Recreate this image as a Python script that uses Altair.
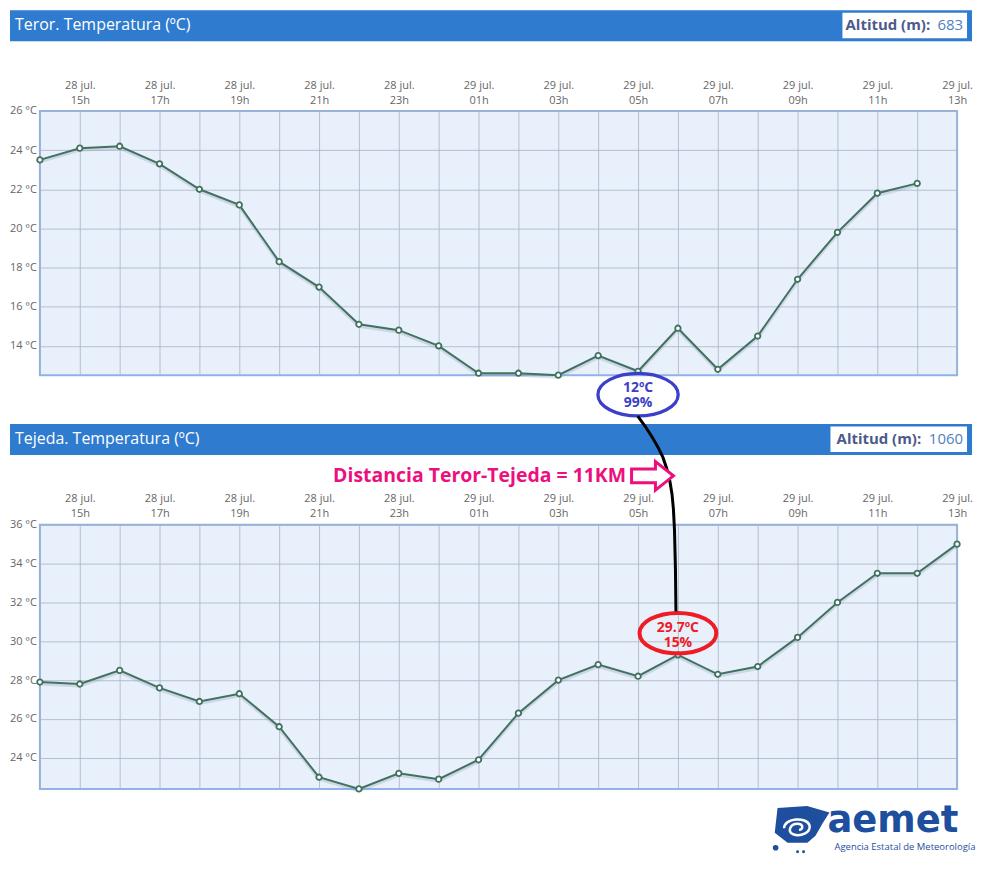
import json
import altair as alt
import pandas as pd

# ---------------- data ----------------
slot_day = ["28 jul.", "28 jul.", "28 jul.", "28 jul.", "28 jul.", "28 jul.", "28 jul.", "28 jul.",
            "28 jul.", "28 jul.", "29 jul.", "29 jul.", "29 jul.", "29 jul.", "29 jul.", "29 jul.",
            "29 jul.", "29 jul.", "29 jul.", "29 jul.", "29 jul.", "29 jul.", "29 jul.", "29 jul."]
slot_hour = ["14h", "15h", "16h", "17h", "18h", "19h", "20h", "21h", "22h", "23h", "00h", "01h",
             "02h", "03h", "04h", "05h", "06h", "07h", "08h", "09h", "10h", "11h", "12h", "13h"]

teror_temp = [23.5, 24.1, 24.2, 23.3, 22.0, 21.2, 18.3, 17.0, 15.1, 14.8, 14.0, 12.6,
              12.6, 12.5, 13.5, 12.7, 14.9, 12.8, 14.5, 17.4, 19.8, 21.8, 22.3, None]
tejeda_temp = [27.9, 27.8, 28.5, 27.6, 26.9, 27.3, 25.6, 23.0, 22.4, 23.2, 22.9, 23.9,
               26.3, 28.0, 28.8, 28.2, 29.3, 28.3, 28.7, 30.2, 32.0, 33.5, 33.5, 35.0]

teror_title = "Teror. Temperatura (ºC)"
tejeda_title = "Tejeda. Temperatura (ºC)"
altitude_label = "Altitud (m):"
teror_altitude = "683"
tejeda_altitude = "1060"
teror_domain = [12.5, 26]
tejeda_domain = [22.4, 36]
teror_ticks = [14, 16, 18, 20, 22, 24, 26]
tejeda_ticks = [24, 26, 28, 30, 32, 34, 36]

teror_note = ["12ºC", "99%"]
teror_note_hour = "05h"
tejeda_note = ["29.7ºC", "15%"]
tejeda_note_hour = "06h"
distance_text = "Distancia Teror-Tejeda = 11KM"
logo_word = "aemet"
logo_sub = "Agencia Estatal de Meteorología"

# ---------------- style ----------------
FONT = "Open Sans"
LINE = "#41715f"
HEADER = "#2e7bcf"
LOGO = "#1d4f9e"
W, H = 920, 265
HX0, HX1 = -30, 935
LY = -5  # logo vertical nudge

ELLIPSE = "M -1 0 A 1 0.53 0 1 1 1 0 A 1 0.53 0 1 1 -1 0 Z"
ARROW = "M -1 -0.33 L 0.14 -0.33 L 0.14 -0.68 L 1 0 L 0.14 0.68 L 0.14 0.33 L -1 0.33 Z"
CURVE = ("M -0.197 -1 Q -0.03 -0.78 0.06 -0.58 Q 0.15 -0.35 0.168 -0.05 "
         "L 0.179 0.163 L 0.189 0.571 L 0.194 1")
BLOB = ("M -0.86 -0.71 L 0.2 -0.78 L 1 -0.55 L 0.75 -0.15 L 0.5 0.29 L 0.21 0.54 "
        "L -0.5 0.54 L -0.96 0.18 Z")
SWIRL = ("M -0.9 0.1 C -0.9 -0.6 0.6 -0.7 0.8 -0.1 C 0.9 0.4 0.2 0.7 -0.3 0.5 "
         "C -0.7 0.3 -0.5 -0.2 0 -0.2 C 0.4 -0.2 0.4 0.2 0.1 0.2")

n = len(slot_hour)
days_js = json.dumps(slot_day, ensure_ascii=False)
hours_js = json.dumps(slot_hour)
x_label_expr = (f"datum.value % 2 == 1 ? [({days_js})[datum.value], "
                f"({hours_js})[datum.value]] : ''")

one = alt.Chart(pd.DataFrame({"k": [0]}))


def panel(temps, title, altitude, domain, ticks, colon_x, box_x):
    df = pd.DataFrame({"slot": list(range(n)), "day": slot_day, "hour": slot_hour,
                       "temp": temps}).dropna()
    x = alt.X("slot:Q", scale=alt.Scale(domain=[0, n - 1], nice=False, zero=False),
              axis=alt.Axis(orient="top", values=list(range(n)), labelExpr=x_label_expr,
                            title=None, ticks=False, tickSize=0, domain=False,
                            labelOverlap=False, labelFlush=False, labelBound=False,
                            labelPadding=21, labelLineHeight=15, labelFontSize=11,
                            grid=True))
    y = alt.Y("temp:Q", scale=alt.Scale(domain=domain, nice=False, zero=False),
              axis=alt.Axis(values=ticks, labelExpr="datum.value + ' °C'", title=None,
                            ticks=False, tickSize=0, domain=False, labelPadding=3.5,
                            labelFontSize=11, grid=True))
    base = alt.Chart(df).encode(x=x, y=y)
    layers = [
        base.mark_line(color="#8f9db3", opacity=0.3, strokeWidth=3, yOffset=2),
        base.mark_line(color=LINE, strokeWidth=2),
        base.mark_circle(fill="white", stroke=LINE, strokeWidth=1.8, size=30, opacity=1),
        one.mark_rect(color=HEADER).encode(x=alt.value(HX0), x2=alt.value(HX1),
                                           y=alt.value(-101), y2=alt.value(-70)),
        one.mark_text(text=title, font=FONT, fontSize=16, color="white", align="left",
                      baseline="middle").encode(x=alt.value(-25), y=alt.value(-86)),
        one.mark_rect(color="white").encode(x=alt.value(box_x), x2=alt.value(HX1 - 5),
                                            y=alt.value(-98.5), y2=alt.value(-73)),
        one.mark_text(text=altitude_label, font=FONT, fontSize=15, fontWeight="bold",
                      color="#4b5a8a", align="right", baseline="middle").encode(
            x=alt.value(colon_x), y=alt.value(-86)),
        one.mark_text(text=altitude, font=FONT, fontSize=15, color="#4f7fc4",
                      align="right", baseline="middle").encode(
            x=alt.value(HX1 - 9), y=alt.value(-86)),
    ]
    return df, x, y, layers


# ---------------- top panel ----------------
df_t, x_t, y_t, layers_t = panel(teror_temp, teror_title, teror_altitude, teror_domain,
                                 teror_ticks, 893, 805)
note_t = alt.Chart(df_t[df_t.hour == teror_note_hour]).encode(x=x_t, y=y_t)
layers_t += [
    note_t.mark_point(shape=ELLIPSE, size=6480, filled=False, stroke="#3c40c8",
                      strokeWidth=3.3, opacity=1, yOffset=23.5),
    note_t.mark_text(text=teror_note, font=FONT, fontSize=14, fontWeight="bold",
                     color="#3c40c8", lineHeight=15, baseline="middle", yOffset=17),
]
top = alt.layer(*layers_t).properties(width=W, height=H)

# ---------------- bottom panel ----------------
df_b, x_b, y_b, layers_b = panel(tejeda_temp, tejeda_title, tejeda_altitude, tejeda_domain,
                                 tejeda_ticks, 884, 793)
note_b = alt.Chart(df_b[df_b.hour == tejeda_note_hour]).encode(x=x_b, y=y_b)
layers_b += [
    note_b.mark_point(shape=ELLIPSE, size=5929, filled=False, stroke="#ee1c25",
                      strokeWidth=4, opacity=1, yOffset=-21.7),
    note_b.mark_text(text=tejeda_note, font=FONT, fontSize=14, fontWeight="bold",
                     color="#ee1c25", lineHeight=15, baseline="middle", yOffset=-27),
    note_b.mark_point(shape=CURVE, size=38416, filled=False, stroke="black",
                      strokeWidth=3, opacity=1, xOffset=-21, yOffset=-141.5),
    one.mark_text(text=distance_text, font=FONT, fontSize=19.5, fontWeight="bold",
                  color="#ec0f7e", align="right", baseline="middle").encode(
        x=alt.value(588), y=alt.value(-49)),
    one.mark_point(shape=ARROW, size=1764, filled=True, fill="white", stroke="#ec0f7e",
                   strokeWidth=3, opacity=1).encode(x=alt.value(614.5), y=alt.value(-49)),
    # logo
    one.mark_point(shape=BLOB, size=3136, filled=True, color=LOGO, opacity=1).encode(
        x=alt.value(764), y=alt.value(309 + LY)),
    one.mark_point(shape=SWIRL, size=900, filled=False, stroke="white", strokeWidth=2.5,
                   opacity=1).encode(x=alt.value(760), y=alt.value(308 + LY)),
    one.mark_circle(size=32, color=LOGO, opacity=1).encode(
        x=alt.value(738), y=alt.value(329 + LY)),
    one.mark_circle(size=9, color=LOGO, opacity=1).encode(
        x=alt.value(760), y=alt.value(333 + LY)),
    one.mark_circle(size=9, color=LOGO, opacity=1).encode(
        x=alt.value(766), y=alt.value(333 + LY)),
    one.mark_text(text=logo_word, font="DejaVu Sans", fontSize=37, fontWeight="bold",
                  color=LOGO, align="left", baseline="alphabetic").encode(
        x=alt.value(790), y=alt.value(313 + LY)),
    one.mark_text(text=logo_sub, font=FONT, fontSize=9.5, color=LOGO, align="left",
                  baseline="middle").encode(x=alt.value(797), y=alt.value(328 + LY)),
]
bottom = alt.layer(*layers_b).properties(width=W, height=H)

chart = (
    alt.vconcat(top, bottom, spacing=150, bounds="flush")
    .resolve_scale(y="independent")
    .properties(padding={"left": 0, "top": 0, "right": 0, "bottom": 0}, background="white")
    .configure_view(stroke="#8fb2e8", strokeWidth=2, fill="#e8f0fb")
    .configure_axis(labelFont=FONT, labelFontSize=11.5, labelColor="#666666",
                    gridColor="#aab2c4", gridOpacity=0.8, gridWidth=1)
)

chart.save("out.html", embed_options={"renderer": "svg", "actions": False})
